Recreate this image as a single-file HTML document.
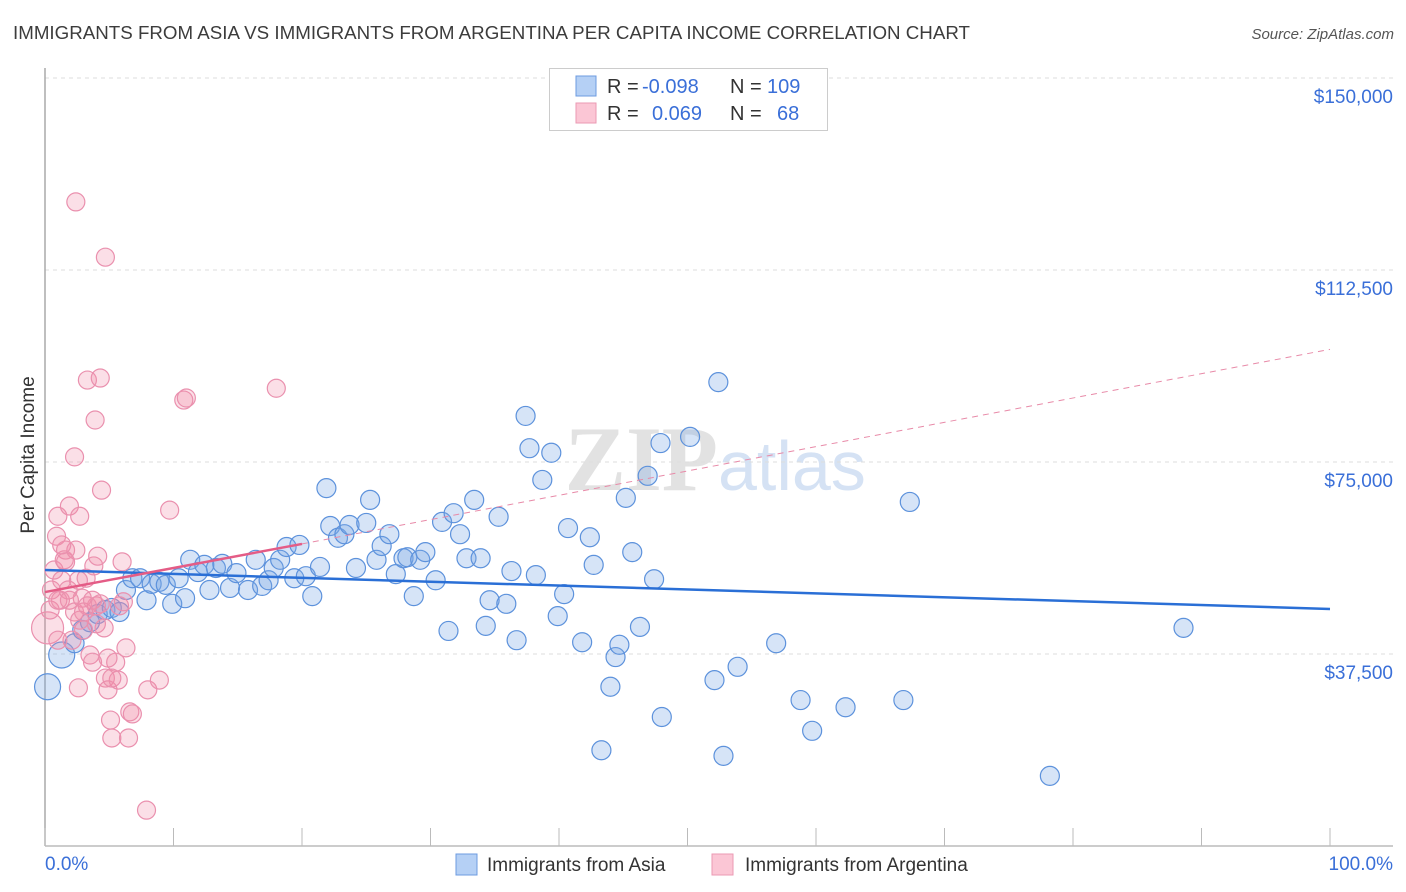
<!DOCTYPE html>
<html><head><meta charset="utf-8"><style>
body{margin:0;background:#fff;font-family:"Liberation Sans",sans-serif;}
svg{display:block}
</style></head><body>
<svg id="chart" width="1406" height="892">
<text x="13" y="39" font-size="18" fill="#3c3c3c" textLength="957" lengthAdjust="spacingAndGlyphs">IMMIGRANTS FROM ASIA VS IMMIGRANTS FROM ARGENTINA PER CAPITA INCOME CORRELATION CHART</text>
<text x="1394" y="39" font-size="15" fill="#555" text-anchor="end" font-style="italic">Source: ZipAtlas.com</text>
<text x="718" y="490" font-size="92" fill="#e2e2e2" text-anchor="end" font-family="Liberation Serif,serif" font-weight="bold">ZIP</text>
<text x="718" y="490" font-size="70" fill="#d5e2f4">atlas</text>
<g id="grid"></g>
<line x1="45" y1="68" x2="45" y2="846" stroke="#aaa" stroke-width="1.5"/>
<line x1="45" y1="846" x2="1393" y2="846" stroke="#bbb" stroke-width="1.5"/>
<g id="ticks"></g>
<g id="pts"></g>
<g id="lines"></g>
<text transform="translate(34,455) rotate(-90)" font-size="19" fill="#333" text-anchor="middle">Per Capita Income</text>
<text x="45" y="870" font-size="19" fill="#3a6fd8">0.0%</text>
<text x="1393" y="870" font-size="19" fill="#3a6fd8" text-anchor="end">100.0%</text>
<g>
<rect x="549.5" y="68.5" width="278" height="62" fill="#fff" stroke="#ccc"/>
<rect x="576" y="76" width="20" height="20" fill="#b5d0f5" stroke="#6d9be0"/>
<rect x="576" y="103" width="20" height="20" fill="#fbc6d5" stroke="#eb9ab3"/>
<text x="607" y="93" font-size="20" fill="#333">R = </text><text x="642" y="93" font-size="20" fill="#3a6fd8">-0.098</text>
<text x="730" y="93" font-size="20" fill="#333">N = </text><text x="767" y="93" font-size="20" fill="#3a6fd8">109</text>
<text x="607" y="120" font-size="20" fill="#333">R = </text><text x="652" y="120" font-size="20" fill="#3a6fd8">0.069</text>
<text x="730" y="120" font-size="20" fill="#333">N = </text><text x="777" y="120" font-size="20" fill="#3a6fd8">68</text>
</g>
<g>
<rect x="456" y="854" width="21" height="21" fill="#b5d0f5" stroke="#6d9be0"/>
<text x="487" y="871" font-size="19" fill="#333">Immigrants from Asia</text>
<rect x="712" y="854" width="21" height="21" fill="#fbc6d5" stroke="#eb9ab3"/>
<text x="745" y="871" font-size="19" fill="#333">Immigrants from Argentina</text>
</g>
</svg>
<script>
const yTicks=[37500,75000,112500,150000];
const yTickLabels=["$37,500","$75,000","$112,500","$150,000"];
const xTicks=[0,10,20,30,40,50,60,70,80,90,100];
const asiaX=[0.2,1.3,2.3,2.9,3.5,4.1,4.7,5.2,5.8,6.3,6.8,7.4,7.9,8.3,8.9,9.4,9.9,10.4,10.9,11.3,11.9,12.4,12.8,13.3,13.8,14.4,14.9,15.8,16.4,16.9,17.4,17.8,18.3,18.8,19.4,19.8,20.3,20.8,21.4,21.9,22.2,22.8,23.3,23.7,24.2,25.0,25.3,25.8,26.2,26.8,27.3,27.9,28.2,28.7,29.2,29.6,30.4,30.9,31.4,31.8,32.3,32.8,33.4,33.9,34.3,34.6,35.3,35.9,36.3,36.7,37.4,37.7,38.2,38.7,39.4,39.9,40.4,40.7,41.8,42.4,42.7,43.3,44.0,44.4,44.7,45.2,45.7,46.3,46.9,47.4,47.9,48.0,50.2,52.1,52.4,52.8,53.9,56.9,58.8,59.7,62.3,66.8,67.3,78.2,88.6];
const asiaY=[31.1,37.3,39.6,42.2,43.7,45.3,46.1,46.5,45.7,50.0,52.3,52.3,48.0,51.2,51.6,51.0,47.3,52.3,48.4,55.9,53.5,54.9,50.0,54.3,55.1,50.4,53.3,50.0,55.9,50.8,51.9,54.3,55.9,58.4,52.3,58.8,52.7,48.8,54.5,69.9,62.5,60.2,60.9,62.7,54.3,63.1,67.6,55.9,58.6,60.9,53.1,56.2,56.4,48.8,55.9,57.4,51.9,63.3,42.0,65.0,60.9,56.2,67.6,56.2,43.0,48.0,64.3,47.3,53.7,40.2,84.0,77.7,52.9,71.5,76.8,44.9,49.2,62.1,39.8,60.3,54.9,18.7,31.1,36.9,39.3,68.0,57.4,42.8,72.3,52.1,78.7,25.2,79.9,32.4,90.6,17.6,35.0,39.6,28.5,22.5,27.1,28.5,67.2,13.7,42.6];
const argX=[0.2,0.4,0.5,0.7,0.9,1.0,1.2,1.3,1.5,1.6,1.8,1.9,2.1,2.3,2.4,2.6,2.7,2.9,3.0,3.2,3.3,3.5,3.7,3.8,3.9,4.0,4.1,4.3,4.4,4.6,4.7,4.9,5.1,5.2,5.5,5.7,5.8,6.0,6.1,6.3,6.5,6.6,6.8,7.9,8.0,8.9,9.7,10.8,11.0,18.0,2.4,4.7,1.0,1.3,1.6,1.9,2.3,2.6,2.7,3.0,3.3,3.7,4.0,4.3,4.9,5.2,1.0];
const argY=[42.6,46.1,50.0,53.9,60.5,64.4,48.0,51.9,55.9,57.8,50.0,66.4,40.2,76.0,57.8,30.9,64.4,48.4,42.2,52.3,91.0,37.3,35.9,54.7,83.2,46.9,56.6,91.4,69.5,42.6,32.8,30.5,24.6,21.1,35.9,32.4,46.9,55.5,47.7,38.7,21.1,26.2,25.8,7.0,30.5,32.4,65.6,87.1,87.5,89.4,125.8,115.0,48.0,58.8,55.5,48.0,45.7,51.9,44.1,45.7,46.9,48.0,43.4,47.3,36.7,32.8,40.2];
const asiaTrend=[53.9,46.3];
const argTrend=[49.6,59.0,97.0];
const NS="http://www.w3.org/2000/svg";
const sx=p=>45+p*12.85;
const sy=v=>846-v/37500*192;
function mk(tag,attrs,parent){const e=document.createElementNS(NS,tag);for(const k in attrs)e.setAttribute(k,attrs[k]);document.getElementById(parent).appendChild(e);return e;}
yTicks.forEach((t,i)=>{
 const g=mk('line',{x1:45,x2:1393,y1:sy(t),y2:sy(t),stroke:'#ddd','stroke-dasharray':'4,4'},'grid');
 
 
 const l=mk('text',{x:1393,y:sy(t)+25,'font-size':19,fill:'#3a6fd8','text-anchor':'end'},'grid');
 l.textContent=yTickLabels[i];
 
 
});
xTicks.forEach(t=>{
 const l=mk('line',{x1:sx(t),x2:sx(t),y1:828,y2:846,stroke:'#bbb'},'ticks');
 
 
});
asiaX.forEach((x,i)=>{
 const r=i<2?13:9.5;
 const c=mk('circle',{cx:sx(x),cy:sy(asiaY[i]*1000),r:r,fill:'rgba(120,165,230,0.3)',stroke:'#5d92dc','stroke-width':1.2},'pts');
 
 
});
argX.forEach((x,i)=>{
 const r=i===0?16:9;
 const c=mk('circle',{cx:sx(x),cy:sy(argY[i]*1000),r:r,fill:'rgba(242,140,170,0.28)',stroke:'#ea90ae','stroke-width':1.2},'pts');
 
 
});
const bl=mk('line',{x1:sx(0),y1:sy(asiaTrend[0]*1000),x2:sx(100),y2:sy(asiaTrend[1]*1000),stroke:'#2a6fd6','stroke-width':2.5},'lines');


const pl=mk('line',{x1:sx(0),y1:sy(argTrend[0]*1000),x2:sx(20),y2:sy(argTrend[1]*1000),stroke:'#e45c86','stroke-width':2.5},'lines');


const pd=mk('line',{x1:sx(20),y1:sy(argTrend[1]*1000),x2:sx(100),y2:sy(argTrend[2]*1000),stroke:'#e88aa8','stroke-width':1,'stroke-dasharray':'6,5'},'lines');


</script>
</body></html>
